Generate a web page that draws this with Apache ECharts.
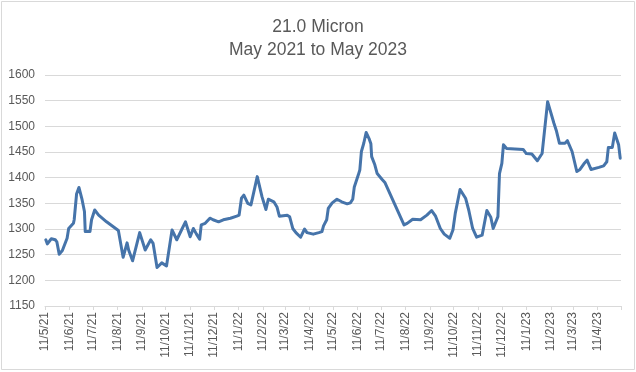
<!DOCTYPE html>
<html>
<head>
<meta charset="utf-8">
<script src="https://cdn.jsdelivr.net/npm/echarts@6/dist/echarts.min.js"></script>
<style>
html,body{margin:0;padding:0;background:#ffffff;}
#chart{width:636px;height:372px;}
</style>
</head>
<body>
<div id="chart"></div>
<script>
const titleLines = ['21.0 Micron', 'May 2021 to May 2023'];

const xTickLabels = ['11/5/21','11/6/21','11/7/21','11/8/21','11/9/21','11/10/21','11/11/21','11/12/21',
  '11/1/22','11/2/22','11/3/22','11/4/22','11/5/22','11/6/22','11/7/22','11/8/22','11/9/22','11/10/22',
  '11/11/22','11/12/22','11/1/23','11/2/23','11/3/23','11/4/23'];
const xAxisEnd = '11/5/23';

const yMin = 1150, yMax = 1600, yStep = 50;

const dates = [
  '2021-05-12','2021-05-14','2021-05-19','2021-05-24','2021-05-26','2021-05-29','2021-06-02','2021-06-08',
  '2021-06-10','2021-06-16','2021-06-17','2021-06-20','2021-06-23','2021-06-27','2021-06-30','2021-07-01',
  '2021-07-07','2021-07-09','2021-07-13','2021-07-18','2021-07-28','2021-08-12','2021-08-14','2021-08-18',
  '2021-08-23','2021-08-25','2021-08-30','2021-09-08','2021-09-15','2021-09-22','2021-09-25','2021-09-30',
  '2021-10-06','2021-10-12','2021-10-19','2021-10-25','2021-10-31','2021-11-05','2021-11-11','2021-11-15',
  '2021-11-19','2021-11-23','2021-11-25','2021-11-30','2021-12-06','2021-12-10','2021-12-17','2021-12-23',
  '2022-01-01','2022-01-09','2022-01-12','2022-01-15','2022-01-18','2022-01-23','2022-01-27','2022-02-04',
  '2022-02-10','2022-02-15','2022-02-18','2022-02-25','2022-03-01','2022-03-04','2022-03-14','2022-03-17',
  '2022-03-21','2022-03-25','2022-03-31','2022-04-05','2022-04-08','2022-04-16','2022-04-23','2022-04-27',
  '2022-04-29','2022-05-03','2022-05-05','2022-05-10','2022-05-16','2022-05-22','2022-05-29','2022-06-02',
  '2022-06-05','2022-06-07','2022-06-12','2022-06-14','2022-06-16','2022-06-19','2022-06-22','2022-06-26',
  '2022-06-28','2022-06-29','2022-07-03','2022-07-06','2022-07-12','2022-07-16','2022-08-09','2022-08-13',
  '2022-08-20','2022-08-30','2022-09-07','2022-09-13','2022-09-18','2022-09-24','2022-09-29','2022-10-06',
  '2022-10-10','2022-10-13','2022-10-19','2022-10-26','2022-10-30','2022-11-04','2022-11-09','2022-11-16',
  '2022-11-22','2022-11-27','2022-11-30','2022-12-06','2022-12-08','2022-12-11','2022-12-13','2022-12-17',
  '2023-01-07','2023-01-11','2023-01-18','2023-01-25','2023-01-31','2023-02-07','2023-02-15','2023-02-18',
  '2023-02-22','2023-03-01','2023-03-04','2023-03-10','2023-03-16','2023-03-20','2023-03-25','2023-03-29',
  '2023-04-03','2023-04-13','2023-04-19','2023-04-23','2023-04-25','2023-04-30','2023-05-03','2023-05-08',
  '2023-05-10'
];

const prices = [
  1279,1271,1281,1279,1275,1251,1258,1282,
  1301,1311,1318,1368,1381,1357,1334,1295,
  1295,1318,1337,1327,1314,1297,1298,1245,
  1273,1259,1238,1293,1259,1279,1272,1225,
  1234,1228,1298,1279,1298,1314,1285,1301,
  1290,1280,1308,1311,1321,1318,1314,1318,
  1321,1325,1327,1360,1366,1350,1347,1402,
  1363,1338,1358,1353,1343,1325,1327,1324,
  1301,1293,1284,1300,1293,1290,1293,1295,
  1306,1318,1340,1351,1358,1353,1349,1351,
  1358,1382,1405,1415,1451,1467,1488,1475,
  1466,1441,1425,1408,1397,1390,1308,1311,
  1319,1318,1327,1336,1325,1301,1290,1282,
  1298,1331,1377,1360,1337,1301,1284,1288,
  1336,1323,1301,1324,1408,1428,1464,1457,
  1455,1447,1446,1433,1447,1548,1506,1492,
  1467,1467,1472,1451,1412,1416,1427,1434,
  1416,1420,1423,1431,1459,1459,1487,1464,
  1438
];

const DAY = 86400000;
function parseDMY(s) {
  const p = s.split('/').map(Number);
  return Math.round(Date.UTC(2000 + p[2], p[1] - 1, p[0]) / DAY);
}
function parseISO(s) {
  const p = s.split('-').map(Number);
  return Math.round(Date.UTC(p[0], p[1] - 1, p[2]) / DAY);
}

const labelValues = xTickLabels.map(parseDMY);
const tickValues = labelValues.concat([parseDMY(xAxisEnd)]);
const labelLookup = {};
xTickLabels.forEach((s, i) => { labelLookup[labelValues[i]] = s; });

const seriesData = dates.map((d, i) => [parseISO(d), prices[i]]);

const textColor = '#595959';
const gridColor = '#d9d9d9';
const lineColor = '#4674AA';
const fontFamily = '"Liberation Sans", Arial, sans-serif';

const chart = echarts.init(document.getElementById('chart'), null, { renderer: 'canvas' });
chart.setOption({
  animation: false,
  backgroundColor: '#ffffff',
  title: {
    text: titleLines.join('\n'),
    left: 'center',
    top: 10,
    textStyle: {
      color: textColor,
      fontSize: 17.5,
      fontWeight: 'normal',
      fontFamily: fontFamily,
      lineHeight: 23.5
    }
  },
  graphic: [{
    type: 'rect',
    shape: { x: 1.5, y: 1.5, width: 633, height: 368 },
    style: { fill: 'none', stroke: gridColor, lineWidth: 1 },
    silent: true,
    z: 100
  }],
  grid: { left: 45, right: 15, top: 75, bottom: 66, containLabel: false },
  xAxis: {
    type: 'value',
    min: labelValues[0],
    max: parseDMY(xAxisEnd),
    splitLine: { show: false },
    axisLine: { show: true, lineStyle: { color: gridColor, width: 1 } },
    axisTick: {
      show: true,
      customValues: tickValues,
      length: 4,
      lineStyle: { color: gridColor, width: 1 }
    },
    axisLabel: {
      customValues: labelValues,
      rotate: 90,
      margin: 6,
      color: textColor,
      fontSize: 12,
      fontFamily: fontFamily,
      hideOverlap: false,
      showMinLabel: true,
      showMaxLabel: true,
      formatter: function (v) { return labelLookup[v] || ''; }
    }
  },
  yAxis: {
    type: 'value',
    min: yMin,
    max: yMax,
    interval: yStep,
    axisLine: { show: false },
    axisTick: { show: false },
    splitLine: { show: true, lineStyle: { color: gridColor, width: 1 } },
    axisLabel: {
      margin: 10,
      color: textColor,
      fontSize: 12,
      fontFamily: fontFamily,
      formatter: function (v) { return String(v); }
    }
  },
  series: [{
    type: 'line',
    data: seriesData,
    showSymbol: false,
    symbol: 'none',
    smooth: false,
    lineStyle: { color: lineColor, width: 3, join: 'round', cap: 'round' },
    itemStyle: { color: lineColor }
  }]
});
</script>
</body>
</html>
